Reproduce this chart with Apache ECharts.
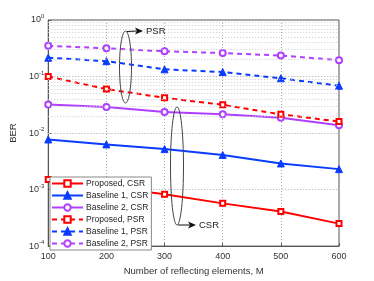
<!DOCTYPE html>
<html><head><meta charset="utf-8">
<script src="https://cdn.jsdelivr.net/npm/echarts@6/dist/echarts.min.js"></script>
<style>html,body{margin:0;padding:0;background:#fff}#c{width:374px;height:281px}</style>
</head><body><div id="c"></div>
<script>
const elements = [100, 200, 300, 400, 500, 600];
const proposedCSR = [0.0015, 0.00112, 0.00083, 0.00057, 0.00041, 0.00025];
const baseline1CSR = [0.0077, 0.0063, 0.0052, 0.0041, 0.0029, 0.0023];
const baseline2CSR = [0.032, 0.0288, 0.0235, 0.0214, 0.0187, 0.0138];
const proposedPSR = [0.1, 0.06, 0.042, 0.0316, 0.0214, 0.016];
const baseline1PSR = [0.215, 0.187, 0.134, 0.12, 0.093, 0.0686];
const baseline2PSR = [0.35, 0.315, 0.28, 0.26, 0.235, 0.195];
const minorGridValues = [];
[1e-4, 1e-3, 1e-2, 1e-1].forEach(d => { for (let k = 2; k <= 9; k++) minorGridValues.push(+(d * k).toPrecision(3)); });

const RED = '#ff0000', BLUE = '#0a3cff', PURPLE = '#b040ff';
function pair(x, y) { return x.map((v, i) => [v, y[i]]); }
function mk(name, data, color, dashed, symbol, size) {
  return {
    name, type: 'line', data: pair(elements, data),
    symbol, symbolSize: size,
    lineStyle: { color, width: 2, type: dashed ? [5, 4] : 'solid' },
    itemStyle: { color: symbol === 'triangle' ? color : '#fff', borderColor: color, borderWidth: symbol === 'triangle' ? 1 : 2 },
    color, z: 3
  };
}
const font = 'Liberation Sans, Arial, sans-serif';
const chart = echarts.init(document.getElementById('c'));
chart.setOption({
  animation: false,
  textStyle: { fontFamily: font },
  grid: { left: 48, right: 35, top: 20, bottom: 32, show: true, borderColor: '#555', borderWidth: 1, backgroundColor: '#fff' },
  xAxis: {
    type: 'value', min: 100, max: 600, interval: 100,
    name: 'Number of reflecting elements, M', nameLocation: 'middle', nameGap: 17,
    nameTextStyle: { fontSize: 9.5, color: '#333', fontFamily: font },
    axisLine: { lineStyle: { color: '#555' } },
    axisTick: { inside: true, length: 3, lineStyle: { color: '#555' } },
    axisLabel: { fontSize: 9, color: '#333', margin: 6, fontFamily: font },
    splitLine: { show: true, lineStyle: { color: '#aaa', type: [1, 2], width: 1 } }
  },
  yAxis: {
    type: 'log', logBase: 10, min: 1e-4, max: 1,
    name: 'BER', nameLocation: 'middle', nameGap: 30, nameRotate: 90,
    nameTextStyle: { fontSize: 9.5, color: '#333', fontFamily: font },
    axisLine: { lineStyle: { color: '#555' } },
    axisTick: { inside: true, length: 3, lineStyle: { color: '#555' } },
    axisLabel: {
      fontSize: 9, color: '#333', margin: 4, fontFamily: font,
      formatter: v => '10{s|' + Math.round(Math.log10(v)) + '}',
      rich: { s: { fontSize: 6, verticalAlign: 'top', padding: [0, 0, 7, 0], color: '#333', fontFamily: font } }
    },
    splitLine: { show: true, lineStyle: { color: '#aaa', type: [1, 2], width: 1 } }
  },
  legend: {
    orient: 'vertical', left: 50, top: 177, z: 20,
    itemWidth: 31, itemHeight: 8, itemGap: 3,
    padding: [2, 3, 2, 1],
    backgroundColor: '#fff', borderColor: '#888', borderWidth: 1,
    textStyle: { fontSize: 8.5, color: '#222', fontFamily: font, padding: [0, 0, 0, -2] },
    data: ['Proposed, CSR', 'Baseline 1, CSR', 'Baseline 2, CSR', 'Proposed, PSR', 'Baseline 1, PSR', 'Baseline 2, PSR']
  },
  series: [
    {
      type: 'line', data: [], silent: true, z: 1,
      markLine: {
        silent: true, symbol: 'none', label: { show: false },
        lineStyle: { color: '#ccc', type: [1, 2], width: 1 },
        data: minorGridValues.map(v => ({ yAxis: v }))
      }
    },
    mk('Proposed, CSR', proposedCSR, RED, false, 'rect', 5),
    mk('Baseline 1, CSR', baseline1CSR, BLUE, false, 'triangle', 7),
    mk('Baseline 2, CSR', baseline2CSR, PURPLE, false, 'circle', 6),
    mk('Proposed, PSR', proposedPSR, RED, true, 'rect', 5),
    mk('Baseline 1, PSR', baseline1PSR, BLUE, true, 'triangle', 7),
    mk('Baseline 2, PSR', baseline2PSR, PURPLE, true, 'circle', 6)
  ],
  graphic: [
    { type: 'ellipse', shape: { cx: 125.5, cy: 67, rx: 6, ry: 36 }, style: { fill: 'none', stroke: '#444', lineWidth: 1 }, z: 10 },
    { type: 'line', shape: { x1: 127, y1: 31.5, x2: 137, y2: 31 }, style: { stroke: '#111', lineWidth: 1 }, z: 10 },
    { type: 'polygon', shape: { points: [[143, 31], [135, 27.5], [137, 31], [135, 34.5]] }, style: { fill: '#111' }, z: 10 },
    { type: 'text', x: 146, y: 26, style: { text: 'PSR', fontSize: 9.5, fill: '#222', fontFamily: font }, z: 10 },
    { type: 'ellipse', shape: { cx: 177, cy: 166, rx: 6.5, ry: 59 }, style: { fill: 'none', stroke: '#444', lineWidth: 1 }, z: 10 },
    { type: 'line', shape: { x1: 178, y1: 225, x2: 190, y2: 225 }, style: { stroke: '#111', lineWidth: 1 }, z: 10 },
    { type: 'polygon', shape: { points: [[196, 225], [188, 221.5], [190, 225], [188, 228.5]] }, style: { fill: '#111' }, z: 10 },
    { type: 'text', x: 199, y: 220, style: { text: 'CSR', fontSize: 9.5, fill: '#222', fontFamily: font }, z: 10 }
  ]
});
</script></body></html>
